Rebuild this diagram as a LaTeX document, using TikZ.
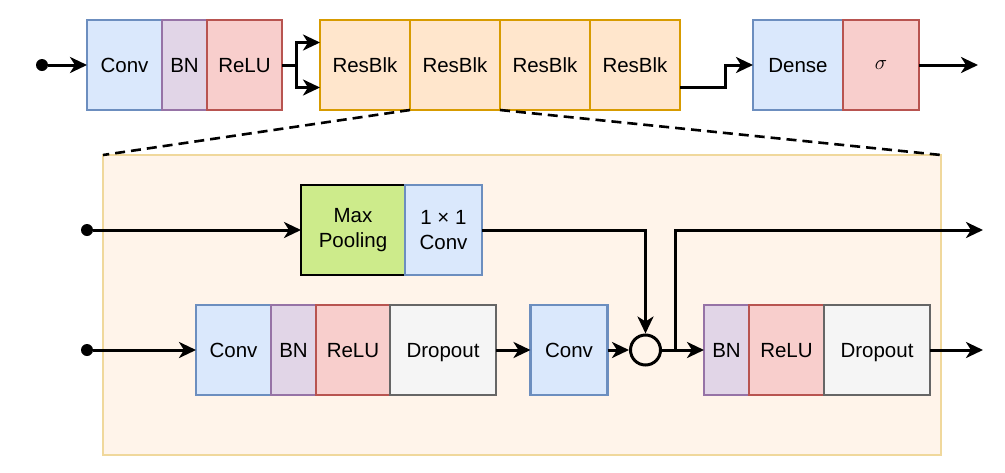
\documentclass[tikz,border=0pt]{standalone}
\usepackage{fontspec}
\setmainfont{Liberation Sans}
\usetikzlibrary{arrows.meta,calc}
\definecolor{bluef}{HTML}{DAE8FC}\definecolor{blues}{HTML}{6C8EBF}
\definecolor{purf}{HTML}{E1D5E7}\definecolor{purs}{HTML}{9673A6}
\definecolor{redf}{HTML}{F8CECC}\definecolor{reds}{HTML}{B85450}
\definecolor{orf}{HTML}{FFE6CC}\definecolor{ors}{HTML}{D79B00}
\definecolor{grf}{HTML}{CDEB8B}
\definecolor{gyf}{HTML}{F5F5F5}\definecolor{gys}{HTML}{666666}
\definecolor{bigf}{HTML}{FFF4EA}\definecolor{bigs}{HTML}{F0D89C}
\begin{document}
\begin{tikzpicture}[x=1pt,y=-1pt,
  box/.style={draw,line width=2.6pt,inner sep=0pt,outer sep=0pt,minimum height=90pt,
    font=\fontsize{20.5}{25.5}\selectfont},
  one/.style={text height=14.7pt,text depth=0pt},
  two/.style={align=center},
  bluebox/.style={box,fill=bluef,draw=blues},
  purbox/.style={box,fill=purf,draw=purs},
  redbox/.style={box,fill=redf,draw=reds},
  orbox/.style={box,fill=orf,draw=ors},
  grbox/.style={box,fill=grf,draw=black},
  gybox/.style={box,fill=gyf,draw=gys},
  wire/.style={line width=3pt,draw=black},
  arr/.style={wire,-{Stealth[length=17pt,width=16pt,inset=5pt]}},
  dot/.style={circle,fill=black,inner sep=0pt,minimum size=12pt},
  zoomline/.style={line width=2.6pt,dash pattern=on 10pt off 6pt}]
\useasboundingbox (0,0) rectangle (1005,472);
% big expansion box
\node[draw=bigs,fill=bigf,line width=2.6pt,minimum width=838pt,minimum height=300pt,inner sep=0pt,outer sep=0pt] (big) at (522,305) {};
% top row
\node[dot] (in0) at (42,65) {};
\node[bluebox,one,minimum width=75pt] (conv0) at (124.5,65) {Conv};
\node[purbox,one,minimum width=45pt] (bn0) at (184.5,65) {BN};
\node[redbox,one,minimum width=75pt] (relu0) at (244.5,65) {ReLU};
\node[orbox,one,minimum width=90pt] (rb1) at (365,65) {ResBlk};
\node[orbox,one,minimum width=90pt] (rb2) at (455,65) {ResBlk};
\node[orbox,one,minimum width=90pt] (rb3) at (545,65) {ResBlk};
\node[orbox,one,minimum width=90pt] (rb4) at (635,65) {ResBlk};
\node[bluebox,one,minimum width=90pt] (dense) at (798,65) {Dense};
\node[redbox,minimum width=76pt] (sig) at (881,65) {$\sigma$};
\coordinate (out0) at (978,65);
\draw[arr] (in0) -- (conv0.west);
\draw[wire] (relu0.east) -- ++(14,0) coordinate (fork);
\draw[arr] (fork) |- ($(rb1.north west)!0.25!(rb1.south west)$);
\draw[arr] (fork) |- ($(rb1.north west)!0.75!(rb1.south west)$);
\coordinate (rb4out) at ($(rb4.north east)!0.75!(rb4.south east)$);
\draw[arr] (rb4out) -- ++(45,0) |- (dense.west);
\draw[arr] (sig.east) -- (out0);
% zoom lines
\draw[zoomline] (rb2.south west) -- (big.north west);
\draw[zoomline] (rb2.south east) -- (big.north east);
% inner top branch
\node[dot] (in1) at (87,230) {};
\node[grbox,two,minimum width=104pt] (pool) at (353,230) {Max\\Pooling};
\node[bluebox,two,minimum width=77pt] (c11) at (443.5,230) {1 × 1\\Conv};
\draw[arr] (in1) -- (pool.west);
% inner bottom branch
\node[dot] (in2) at (87,350) {};
\node[bluebox,one,minimum width=75pt] (conv1) at (233.5,350) {Conv};
\node[purbox,one,minimum width=45pt] (bn1) at (293.5,350) {BN};
\node[redbox,one,minimum width=74pt] (relu1) at (353,350) {ReLU};
\node[gybox,one,minimum width=106pt] (drop1) at (443,350) {Dropout};
\node[bluebox,one,minimum width=77pt] (conv2) at (569,350) {Conv};
\node[draw,circle,line width=3pt,minimum size=30pt,inner sep=0pt] (sum) at (645.5,350) {};
\node[purbox,one,minimum width=45pt] (bn2) at (726.5,350) {BN};
\node[redbox,one,minimum width=75pt] (relu2) at (786.5,350) {ReLU};
\node[gybox,one,minimum width=106pt] (drop2) at (877,350) {Dropout};
\coordinate (br) at (675,350);
\coordinate (outtop) at (983,230);
\coordinate (outbot) at (983,350);
\draw[arr] (in2) -- (conv1.west);
\draw[arr] (drop1.east) -- (conv2.west);
\draw[arr] (conv2.east) -- (sum.west);
\draw[arr] (c11.east) -| (sum.north);
\draw[arr] (sum.east) -- (bn2.west);
\draw[arr] (br) |- (outtop);
\draw[arr] (drop2.east) -- (outbot);
\end{tikzpicture}
\end{document}
